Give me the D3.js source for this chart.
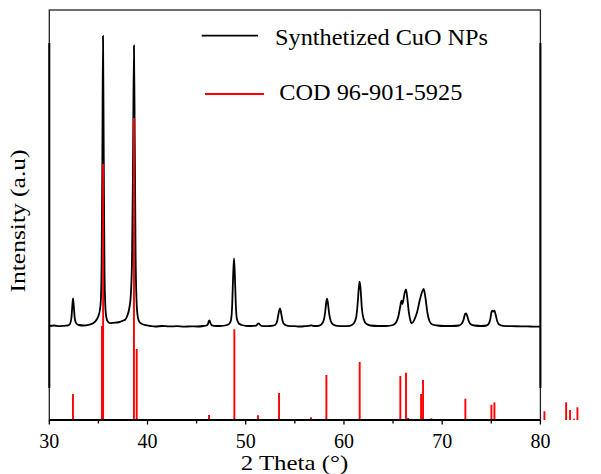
<!DOCTYPE html>
<html>
<head>
<meta charset="utf-8">
<script src="https://cdn.jsdelivr.net/npm/d3@7"></script>
<style>
  html, body { margin: 0; padding: 0; background: #fff; }
  svg { display: block; }
</style>
</head>
<body>
<svg id="chart" width="601" height="474"></svg>
<script>
// Measured XRD pattern of the synthesized CuO nanoparticles (2θ in degrees, intensity in counts)
const twoTheta = [
  30.0, 30.5, 31.0, 31.5, 31.9, 32.1, 32.25, 32.35, 32.42, 32.5, 32.6, 32.75, 33.0, 33.5, 34.0,
  34.5, 34.86, 35.0, 35.15, 35.25, 35.33, 35.4, 35.47, 35.54, 35.62, 35.7, 35.8, 35.95, 36.2,
  36.55, 36.9, 37.2, 37.45, 37.74, 37.95, 38.15, 38.3, 38.42, 38.52, 38.62, 38.7, 38.78, 38.88,
  38.98, 39.1, 39.3, 39.5, 39.8, 40.3, 40.8, 41.5, 42.2, 43.0, 43.7, 44.4, 45.1, 45.7, 46.0,
  46.15, 46.25, 46.3, 46.4, 46.55, 47.0, 47.6, 48.1, 48.35, 48.5, 48.62, 48.72, 48.81, 48.9,
  49.0, 49.1, 49.3, 49.6, 50.0, 50.5, 51.05, 51.22, 51.32, 51.42, 51.6, 52.0, 52.5, 53.0, 53.2,
  53.35, 53.49, 53.6, 53.75, 53.95, 54.3, 55.0, 55.5, 56.0, 56.6, 56.75, 56.9, 57.3, 57.7,
  57.95, 58.1, 58.2, 58.28, 58.38, 58.5, 58.65, 58.9, 59.3, 60.0, 60.6, 61.0, 61.25, 61.4,
  61.52, 61.6, 61.7, 61.82, 62.0, 62.3, 62.7, 63.5, 64.3, 65.0, 65.3, 65.55, 65.72, 65.85,
  65.95, 66.05, 66.2, 66.32, 66.45, 66.6, 66.75, 66.86, 67.0, 67.2, 67.45, 67.7, 67.95, 68.12,
  68.3, 68.5, 68.7, 69.0, 69.5, 70.2, 71.0, 71.7, 72.0, 72.2, 72.33, 72.43, 72.55, 72.7, 72.9,
  73.3, 74.0, 74.5, 74.75, 74.9, 75.02, 75.1, 75.2, 75.32, 75.45, 75.6, 75.8, 76.2, 77.0,
  78.0, 79.0, 80.0
];
const intensity = [
  940, 945, 938, 942, 945, 960, 1020, 1150, 1217, 1130, 1010, 965, 950, 945, 952,
  970, 1010, 1040, 1100, 1200, 1600, 2600, 3840, 2700, 1500, 1150, 1030, 985, 968,
  972, 975, 982, 992, 1005, 1045, 1120, 1250, 1600, 2500, 3745, 2800, 1700, 1200,
  1050, 995, 968, 958, 948, 940, 935, 940, 936, 938, 933, 937, 935, 940, 945,
  960, 990, 997, 970, 947, 940, 942, 950, 965, 1000, 1150, 1450, 1617, 1420,
  1130, 1010, 965, 950, 942, 940, 944, 962, 967, 955, 941, 938, 940, 950, 990,
  1070, 1117, 1070, 990, 955, 942, 938, 935, 938, 945, 947, 940, 940, 955,
  1000, 1090, 1180, 1213, 1160, 1060, 990, 955, 942, 938, 942, 965, 1030, 1170,
  1330, 1383, 1300, 1120, 1010, 960, 945, 940, 940, 950, 975, 1040, 1130, 1193,
  1160, 1200, 1280, 1307, 1220, 1080, 1000, 967, 975, 1010, 1080, 1190, 1280, 1310,
  1220, 1070, 990, 955, 945, 940, 940, 945, 965, 1010, 1060, 1067, 1040, 990, 958,
  945, 940, 945, 965, 1010, 1080, 1093, 1085, 1093, 1050, 990, 955, 942, 938,
  937, 935, 933
];

// Reference pattern COD 96-901-5925 (stick positions and intensities)
const refTwoTheta = [
  32.41, 35.36, 35.48, 38.62, 38.9, 46.26, 48.84, 51.25, 53.39, 56.65, 58.21, 61.6,
  65.74, 66.32, 66.53, 67.85, 68.05, 68.9, 71.82, 72.36, 72.9, 75.01, 75.32, 79.73,
  80.41, 82.62, 83.02, 83.43, 83.77
];
const refIntensity = [
  260, 940, 2560, 3020, 710, 50, 907, 47, 270, 27, 450, 580,
  440, 473, 20, 260, 400, 17, 10, 213, 10, 153, 177, 7,
  87, 177, 100, 13, 127
];

const xMajorTicks = [30, 40, 50, 60, 70, 80];
const xMinorTicks = [35, 45, 55, 65, 75];

const legendLabels = ["Synthetized CuO NPs", "COD 96-901-5925"];
const xTitle = "2 Theta (°)";
const yTitle = "Intensity (a.u)";

const serif = "'Liberation Serif', Tinos, 'Times New Roman', Times, 'DejaVu Serif', serif";

const svg = d3.select("#chart").attr("font-family", serif);
const plotLeft = 49.3, plotRight = 540.4, plotTop = 10, plotBottom = 420;

const x = d3.scaleLinear().domain([30, 80]).range([plotLeft, plotRight]);
const y = d3.scaleLinear().domain([0, 4100]).range([plotBottom, plotTop]);

// Plot frame
svg.append("rect")
  .attr("x", plotLeft).attr("y", plotTop)
  .attr("width", plotRight - plotLeft).attr("height", plotBottom - plotTop)
  .attr("fill", "none").attr("stroke", "#222").attr("stroke-width", 1.3);

// Heavier sections of the side borders
[plotLeft, plotRight].forEach(px => {
  svg.append("line")
    .attr("x1", px).attr("x2", px).attr("y1", 43).attr("y2", 388)
    .attr("stroke", "#000").attr("stroke-width", 2);
});

// Measured pattern
const line = d3.line()
  .x((d, i) => x(twoTheta[i]))
  .y(d => y(d))
  .curve(d3.curveMonotoneX);

svg.append("path")
  .datum(intensity)
  .attr("d", line)
  .attr("fill", "none")
  .attr("stroke", "#000")
  .attr("stroke-width", 1.8)
  .attr("stroke-linejoin", "round");

// Reference sticks
svg.append("g").selectAll("line")
  .data(refTwoTheta)
  .join("line")
  .attr("x1", d => x(d)).attr("x2", d => x(d))
  .attr("y1", y(0))
  .attr("y2", (d, i) => y(refIntensity[i]))
  .attr("stroke", "#ff0000")
  .attr("stroke-width", 1.9);

// Bottom axis
const xAxis = svg.append("g").attr("transform", `translate(0,${plotBottom})`);
xAxis.append("line")
  .attr("x1", plotLeft).attr("x2", plotRight)
  .attr("stroke", "#000").attr("stroke-width", 2);

xAxis.selectAll(".minor").data(xMinorTicks).join("line")
  .attr("class", "minor")
  .attr("x1", d => x(d)).attr("x2", d => x(d))
  .attr("y1", 0).attr("y2", 3.5)
  .attr("stroke", "#000").attr("stroke-width", 1.3);

xAxis.selectAll(".major").data(xMajorTicks).join("line")
  .attr("class", "major")
  .attr("x1", d => x(d)).attr("x2", d => x(d))
  .attr("y1", 0).attr("y2", 4.5)
  .attr("stroke", "#000").attr("stroke-width", 1.3);

xAxis.selectAll(".lbl").data(xMajorTicks).join("text")
  .attr("class", "lbl")
  .attr("x", d => x(d)).attr("y", 28)
  .attr("text-anchor", "middle")
  .attr("font-family", serif)
  .attr("font-size", 20)
  .attr("fill", "#000")
  .text(d => d);

// Axis titles
svg.append("text")
  .attr("x", 240.7).attr("y", 469.5)
  .attr("font-family", serif)
  .attr("font-size", 22)
  .attr("fill", "#000")
  .attr("textLength", 107.6).attr("lengthAdjust", "spacingAndGlyphs")
  .text(xTitle);

svg.append("text")
  .attr("transform", "translate(25,292.5) rotate(-90)")
  .attr("font-family", serif)
  .attr("font-size", 21)
  .attr("fill", "#000")
  .attr("textLength", 143).attr("lengthAdjust", "spacingAndGlyphs")
  .text(yTitle);

// Legend
const legend = svg.append("g");
legend.append("line")
  .attr("x1", 201.7).attr("x2", 258).attr("y1", 35.7).attr("y2", 35.7)
  .attr("stroke", "#000").attr("stroke-width", 1.8);
legend.append("text")
  .attr("x", 275).attr("y", 44.5)
  .attr("font-family", serif)
  .attr("font-size", 24)
  .attr("fill", "#000")
  .attr("textLength", 213).attr("lengthAdjust", "spacingAndGlyphs")
  .text(legendLabels[0]);

legend.append("line")
  .attr("x1", 205).attr("x2", 264).attr("y1", 94).attr("y2", 94)
  .attr("stroke", "#ff0000").attr("stroke-width", 1.9);
legend.append("text")
  .attr("x", 279.3).attr("y", 99.5)
  .attr("font-family", serif)
  .attr("font-size", 24)
  .attr("fill", "#000")
  .attr("textLength", 183).attr("lengthAdjust", "spacingAndGlyphs")
  .text(legendLabels[1]);
</script>
</body>
</html>
